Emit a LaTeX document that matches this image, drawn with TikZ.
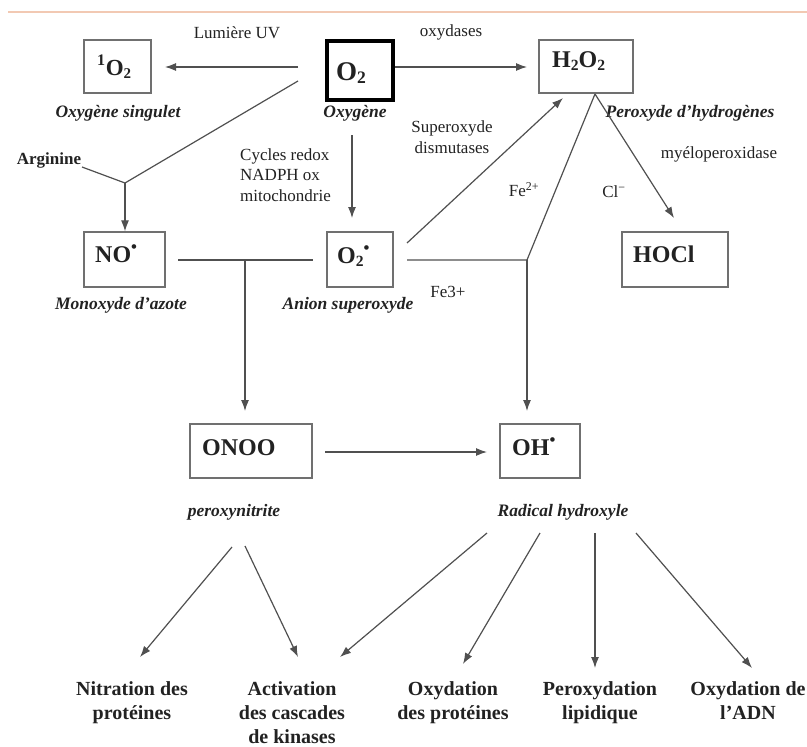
\documentclass[tikz,border=0pt]{standalone}
\usepackage{fontspec}
\usepackage{graphicx}
\setmainfont{Liberation Serif}
\usetikzlibrary{arrows.meta}
\definecolor{ln}{HTML}{505050}
\definecolor{bx}{HTML}{707070}
\definecolor{tx}{HTML}{222222}
\definecolor{topline}{HTML}{F2C9B3}
\newcommand{\dn}[1]{\raisebox{-0.3ex}{\scalebox{0.65}{#1}}}
\tikzset{
 box/.style={draw=bx, line width=1.3pt, inner sep=0pt},
 mainbox/.style={draw=black, line width=4pt, inner sep=0pt},
 boxtxt/.style={font=\fontsize{24}{28}\selectfont\bfseries, text=tx, inner sep=0pt, anchor=base west},
 ital/.style={font=\fontsize{17.5}{21}\selectfont\bfseries\itshape, text=tx, inner sep=0pt},
 lbl/.style={font=\fontsize{17}{20.5}\selectfont, text=tx, inner sep=0pt},
 blbl/.style={font=\fontsize{17}{20.5}\selectfont\bfseries, text=tx, inner sep=0pt},
 res/.style={font=\fontsize{20}{24}\selectfont\bfseries, text=tx, inner sep=0pt, align=center, anchor=north},
 link/.style={draw=ln, line width=1.2pt},
 arr/.style={link, -{Latex[length=11pt,width=8pt]}},
}
\begin{document}
\begin{tikzpicture}[x=1pt,y=-1pt]
\useasboundingbox (0,0) rectangle (807,747);
\fill[white] (0,0) rectangle (807,747);
\draw[topline, line width=1.5pt] (8,12) -- (807,12);

% boxes
\node[box, minimum width=67pt, minimum height=53pt] (s) at (117.5,66.5) {};
\node[mainbox, minimum width=66pt, minimum height=59pt] (o2) at (360,70.5) {};
\node[box, minimum width=94pt, minimum height=53pt] (h2o2) at (586,66.5) {};
\node[box, minimum width=81pt, minimum height=55pt] (no) at (124.5,259.5) {};
\node[box, minimum width=66pt, minimum height=55pt] (o2s) at (360,259.5) {};
\node[box, minimum width=106pt, minimum height=55pt] (hocl) at (675,259.5) {};
\node[box, minimum width=122pt, minimum height=54pt] (onoo) at (251,451) {};
\node[box, minimum width=80pt, minimum height=54pt] (oh) at (540,451) {};

% box texts
\node[boxtxt, font=\fontsize{23}{28}\selectfont\bfseries] (sT) at (97,75) {\textsuperscript{1}O\dn{2}};
\node[boxtxt, font=\fontsize{27}{30}\selectfont\bfseries] (o2T) at (336,80) {O\dn{2}};
\node[boxtxt] (h2o2T) at (552,67) {H\dn{2}O\dn{2}};
\node[boxtxt] (noT) at (95,262) {NO\textsuperscript{\textbullet}};
\node[boxtxt] (o2sT) at (337,263) {O\dn{2}\textsuperscript{\textbullet}};
\node[boxtxt] (hoclT) at (633,262) {HOCl};
\node[boxtxt] (onooT) at (202,455) {ONOO};
\node[boxtxt] (ohT) at (512,455) {OH\textsuperscript{\textbullet}};

% labels
\node[lbl] (luv) at (237,33) {Lumière UV};
\node[lbl] (oxy) at (451,32) {oxydases};
\node[ital] (sing) at (118,113) {Oxygène singulet};
\node[ital] (oxg) at (355,113) {Oxygène};
\node[ital] (perh) at (690,113) {Peroxyde d'hydrogènes};
\node[lbl, align=center] (sod) at (452,137) {Superoxyde\\dismutases};
\node[lbl] (mpo) at (719,154) {myéloperoxidase};
\node[lbl] (fe2) at (524,190) {Fe\textsuperscript{2+}};
\node[lbl] (cl) at (614,192) {Cl\textsuperscript{−}};
\node[blbl] (arg) at (49,160) {Arginine};
\node[lbl, align=left, anchor=west] (cyc) at (240,175) {Cycles redox\\NADPH ox\\mitochondrie};
\node[ital] (mono) at (121,305) {Monoxyde d'azote};
\node[ital] (anion) at (348,305) {Anion superoxyde};
\node[lbl] (fe3) at (448,292) {Fe3+};
\node[ital] (pnit) at (234,512) {peroxynitrite};
\node[ital] (rad) at (563,512) {Radical hydroxyle};

\node[res] (r1) at (132,681) {Nitration des\\protéines};
\node[res] (r2) at (292,681) {Activation\\des cascades\\de kinases};
\node[res] (r3) at (453,681) {Oxydation\\des protéines};
\node[res] (r4) at (600,681) {Peroxydation\\lipidique};
\node[res] (r5) at (748,681) {Oxydation de\\l'ADN};

% coordinates
\coordinate (uvS) at (298,67);
\coordinate (uvE) at (165,67);
\coordinate (oxE) at (527,67);
\coordinate (nS) at (298,81);
\coordinate (j1) at (125,183);
\coordinate (argE) at (82,167);
\coordinate (cS) at (352,135);
\coordinate (cE) at (352,218);
\coordinate (h1) at (178,260);
\coordinate (h2) at (313,260);
\coordinate (j2) at (245,260);
\coordinate (pE) at (245,411);
\coordinate (sdS) at (407,243);
\coordinate (sdE) at (563,98);
\coordinate (f1) at (407,260);
\coordinate (j3) at (527,260);
\coordinate (hb) at (595,94);
\coordinate (ohE) at (527,411);
\coordinate (mpE) at (674,218);
\coordinate (xS) at (325,452);
\coordinate (xE) at (487,452);
\coordinate (b1S) at (232,547);
\coordinate (b1E) at (140,657);
\coordinate (b2S) at (245,546);
\coordinate (b2E) at (298,657);
\coordinate (b3S) at (487,533);
\coordinate (b3E) at (340,657);
\coordinate (b4S) at (540,533);
\coordinate (b4E) at (463,664);
\coordinate (b5S) at (595,533);
\coordinate (b5E) at (595,668);
\coordinate (b6S) at (636,533);
\coordinate (b6E) at (752,668);

% connectors
\draw[arr] (uvS) -- (uvE);
\draw[arr] (o2.east |- oxE) -- (oxE);
\draw[link] (nS) -- (j1) -- (argE);
\draw[arr] (j1) -- (j1 |- no.north);
\draw[arr] (cS) -- (cE);
\draw[link] (h1) -- (h2);
\draw[arr] (j2) -- (pE);
\draw[arr] (sdS) -- (sdE);
\draw[link] (f1) -- (j3) -- (hb);
\draw[arr] (j3) -- (ohE);
\draw[arr] (hb) -- (mpE);
\draw[arr] (xS) -- (xE);
\draw[arr] (b1S) -- (b1E);
\draw[arr] (b2S) -- (b2E);
\draw[arr] (b3S) -- (b3E);
\draw[arr] (b4S) -- (b4E);
\draw[arr] (b5S) -- (b5E);
\draw[arr] (b6S) -- (b6E);
\end{tikzpicture}
\end{document}
